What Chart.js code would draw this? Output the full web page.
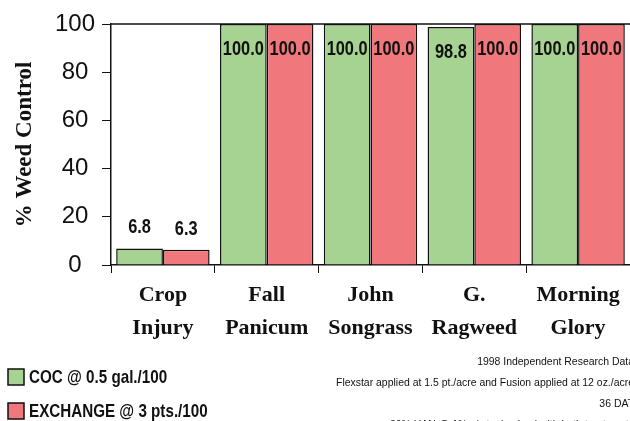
<!DOCTYPE html>
<html>
<head>
<meta charset="utf-8">
<script src="https://cdn.jsdelivr.net/npm/chart.js@4.4.1/dist/chart.umd.min.js"></script>
<style>
  html, body { margin: 0; padding: 0; background: #fff; }
  #wrap { width: 630px; height: 421px; position: relative; }
</style>
</head>
<body>
<div id="wrap"><canvas id="chart" width="630" height="421"></canvas></div>
<script>
'use strict'

const categories = [
  ['Crop', 'Injury'],
  ['Fall', 'Panicum'],
  ['John', 'Songrass'],
  ['G.', 'Ragweed'],
  ['Morning', 'Glory'],
]
const cocValues = [6.8, 100.0, 100.0, 98.8, 100.0]
const exchangeValues = [6.3, 100.0, 100.0, 100.0, 100.0]
const seriesNames = ['COC @ 0.5 gal./100', 'EXCHANGE @ 3 pts./100']
const yMin = 0
const yMax = 100
const yStep = 20
const notes = [
  '1998 Independent Research Data',
  'Flexstar applied at 1.5 pt./acre and Fusion applied at 12 oz./acre',
  '36 DAT',
  '30% UAN @ 1% v/v tank mixed with both treatments',
]

const green = '#a6d391'
const red = '#f0777c'
const sans = '"Liberation Sans", Arial, sans-serif'

// condensed look: squeeze normal sans text horizontally
function narrowText(ctx, text, x, y, sx, align) {
  ctx.save()
  ctx.translate(x, y)
  ctx.scale(sx, 1)
  ctx.textAlign = align
  ctx.fillText(text, 0, 0)
  ctx.restore()
}

// value labels, frame, legend and notes
const extras = {
  id: 'extras',
  afterDatasetsDraw(chart) {
    const ctx = chart.ctx
    ctx.save()
    ctx.font = 'bold 21px ' + sans
    ctx.fillStyle = '#111'
    ctx.textBaseline = 'middle'
    chart.data.datasets.forEach((ds, i) => {
      chart.getDatasetMeta(i).data.forEach((bar, j) => {
        const v = ds.data[j]
        const y = v > 50 ? bar.y + 25 : bar.y - 21
        narrowText(ctx, v.toFixed(1), bar.x, y, 0.78, 'center')
      })
    })
    ctx.restore()
  },
  afterDraw(chart) {
    const ctx = chart.ctx
    const area = chart.chartArea
    ctx.save()
    ctx.strokeStyle = '#111'
    ctx.lineWidth = 1.5
    ctx.beginPath()
    ctx.moveTo(area.left, area.top)
    ctx.lineTo(area.right + 2, area.top)
    ctx.stroke()

    // legend
    const colors = [green, red]
    ctx.font = 'bold 19px ' + sans
    ctx.textBaseline = 'middle'
    seriesNames.forEach((name, i) => {
      const y = 369 + i * 34
      ctx.fillStyle = colors[i]
      ctx.fillRect(8, y, 16, 16)
      ctx.strokeStyle = '#111'
      ctx.lineWidth = 1.5
      ctx.strokeRect(8, y, 16, 16)
      ctx.fillStyle = '#111'
      narrowText(ctx, name, 29, y + 9, 0.8, 'left')
    })

    // notes
    ctx.font = '11px ' + sans
    notes.forEach((t, i) => {
      narrowText(ctx, t, 634, 362 + i * 21, 0.95, 'right')
    })
    ctx.restore()
  }
}

const data = {
  labels: categories,
  datasets: [{
    label: seriesNames[0],
    data: cocValues,
    backgroundColor: green,
    borderColor: '#111',
    borderWidth: 1.5,
    categoryPercentage: 0.9,
    barPercentage: 1.0,
  }, {
    label: seriesNames[1],
    data: exchangeValues,
    backgroundColor: red,
    borderColor: '#111',
    borderWidth: 1.5,
    categoryPercentage: 0.9,
    barPercentage: 1.0,
  }]
}

const options = {
  responsive: false,
  animation: false,
  layout: { padding: { top: 24, right: 0, bottom: 0, left: 0 } },
  plugins: {
    legend: { display: false },
    tooltip: { enabled: false },
  },
  scales: {
    x: {
      grid: {
        display: true,
        offset: true,
        drawOnChartArea: false,
        drawTicks: true,
        tickLength: 8,
        color: '#111',
      },
      border: { color: '#111', width: 1.5 },
      ticks: {
        color: '#111',
        padding: 6,
        maxRotation: 0,
        font: { family: '"Liberation Serif", serif', weight: 'bold', size: 22, lineHeight: 1.5 },
      },
      afterFit(scale) { scale.height = 156 },
    },
    y: {
      min: yMin,
      max: yMax,
      grid: {
        drawOnChartArea: false,
        drawTicks: true,
        tickLength: 9,
        color: '#111',
      },
      border: { color: '#111', width: 1.5 },
      ticks: {
        stepSize: yStep,
        color: '#111',
        crossAlign: 'center',
        padding: 7,
        font: { family: sans, size: 24 },
      },
      title: {
        display: true,
        text: '% Weed Control',
        color: '#111',
        padding: { top: 11, bottom: 0 },
        font: { family: '"Liberation Serif", serif', weight: 'bold', size: 23 },
      },
      afterFit(scale) { scale.width = 111 },
    }
  }
}

new Chart(document.getElementById('chart'), {
  type: 'bar',
  data: data,
  options: options,
  plugins: [extras],
})
</script>
</body>
</html>
